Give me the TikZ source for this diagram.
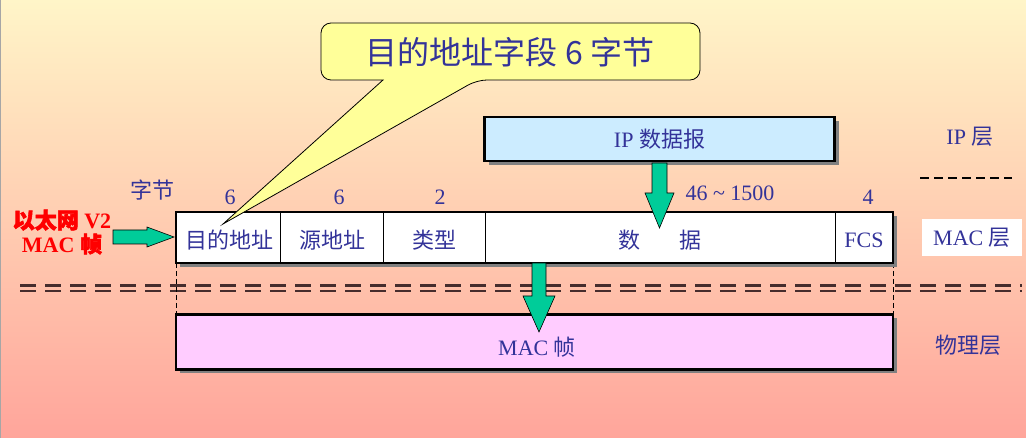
\documentclass[tikz,border=0pt]{standalone}
\usepackage{fontspec}
\setmainfont{Liberation Serif}
\newfontfamily\cjk{Noto Sans CJK SC}
\newfontfamily\cjkb[FakeBold=2.5]{Noto Sans CJK SC}
\usetikzlibrary{shadows}
\definecolor{txtblue}{RGB}{51,51,153}
\definecolor{bgtop}{RGB}{255,245,200}
\definecolor{bgmid}{RGB}{255,208,172}
\definecolor{bgbot}{RGB}{255,165,155}
\definecolor{arrowgreen}{RGB}{0,204,153}
\definecolor{ipblue}{RGB}{204,236,255}
\definecolor{macpink}{RGB}{255,204,255}
\definecolor{calloutyellow}{RGB}{255,255,153}
\definecolor{sepline}{RGB}{70,45,45}

\begin{document}
\begin{tikzpicture}[x=1pt,y=-1pt,
  lbl/.style={text=txtblue,font=\fontsize{22}{24}\selectfont,inner sep=0pt},
  thickbox/.style={draw=black,line width=2.2pt,inner sep=0pt,
    drop shadow={shadow xshift=4pt,shadow yshift=-4pt,fill=black!50,opacity=1}},
  blockarrow/.style={fill=arrowgreen,draw=black,line width=0.6pt}]
\useasboundingbox (0,0) rectangle (1026,438);
\shade[top color=bgtop,middle color=bgmid,bottom color=bgbot] (0,0) rectangle (1026,438);
\draw[black!35,line width=1pt] (0.5,0) -- (0.5,438);

\draw[sepline,line width=2.2pt,dash pattern=on 16pt off 9pt] (20,285.5) -- (1022,285.5);
\draw[sepline,line width=2.2pt,dash pattern=on 16pt off 9pt] (20,291) -- (1022,291);
\draw[black,line width=0.7pt,dash pattern=on 5pt off 3pt] (176,263) -- (176,315);
\draw[black,line width=0.7pt,dash pattern=on 5pt off 3pt] (893,263) -- (893,315);

\node[thickbox,fill=white,minimum width=717pt,minimum height=51pt] (frame) at (534.5,237.5) {};
\draw[line width=0.8pt] (280,212) -- (280,263);
\draw[line width=0.8pt] (383,212) -- (383,263);
\draw[line width=0.8pt] (485,212) -- (485,263);
\draw[line width=0.8pt] (835,212) -- (835,263);
\node[lbl] (dst) at (229,240) {\cjk 目的地址};
\node[lbl] (src) at (332,240) {\cjk 源地址};
\node[lbl] (type) at (434,240) {\cjk 类型};
\node[lbl] (data) at (660,240) {\cjk 数\hspace{1.8em}据};
\node[lbl] (fcs) at (864,240) {FCS};

\node[lbl] (unit) at (152,190) {\cjk 字节};
\node[lbl] (ndst) at (230,197) {6};
\node[lbl] (nsrc) at (339,197) {6};
\node[lbl] (ntype) at (440,197) {2};
\node[lbl] (ndata) at (730,193) {46 \textasciitilde\ 1500};
\node[lbl] (nfcs) at (868,197) {4};

\node[thickbox,fill=ipblue,minimum width=350pt,minimum height=44pt] (ipbox) at (659.5,139) {};
\node[lbl] at (ipbox) {IP {\cjk 数据报}};
\draw[blockarrow] (652,163) -- (667,163) -- (667,193) -- (674,193) -- (659.5,228)
  -- (645,193) -- (652,193) -- cycle;

\node[thickbox,fill=macpink,minimum width=717pt,minimum height=55pt] (macbox) at (534.5,342) {};
\node[lbl] (macframe) at (537,347) {MAC {\cjk 帧}};
\draw[blockarrow] (532,263) -- (546,263) -- (546,296) -- (555,296) -- (539,332)
  -- (523,296) -- (532,296) -- cycle;

\node[lbl] (iplayer) at (970,137) {IP {\cjk 层}};
\draw[black,line width=1.3pt,dash pattern=on 9pt off 5pt] (920,178) -- (1012,178);
\node[lbl,fill=white,minimum width=100pt,minimum height=37pt] (maclayer) at (972,238) {MAC {\cjk 层}};
\node[lbl] (phylayer) at (968,345) {\cjk 物理层};

\node[text=red,font=\fontsize{22}{24}\selectfont\bfseries,align=center,inner sep=0pt] (ether) at (62,232)
  {{\cjkb 以太网} V2\\MAC {\cjkb 帧}};
\draw[blockarrow] (113,230) -- (147,230) -- (147,227) -- (174,237) -- (147,247)
  -- (147,244) -- (113,244) -- cycle;

\draw[fill=calloutyellow,draw=black,line width=0.8pt] (383,80) [rounded corners=10pt] -| (321,23)
  -| (700,80) -- (477,80) [sharp corners] -- (223,224) -- cycle;
\node[text=txtblue,font=\fontsize{32}{36}\selectfont\cjk,inner sep=0pt] (callout) at (510,52) {目的地址字段 6 字节};
\end{tikzpicture}
\end{document}
